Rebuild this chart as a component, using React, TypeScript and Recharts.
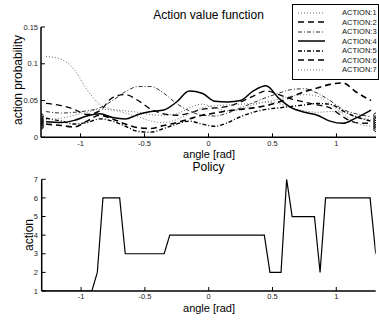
import React from "react";
import {
  ComposedChart,
  Line,
  Scatter,
  XAxis,
  YAxis,
  Legend,
} from "recharts";

// angles (rad) where the action values are sampled
const angles = [
  -1.27, -1.15, -1.05, -0.95, -0.85, -0.75, -0.65, -0.55, -0.45, -0.35, -0.25,
  -0.15, -0.05, 0.05, 0.15, 0.25, 0.35, 0.45, 0.55, 0.65, 0.75, 0.85, 0.95,
  1.05, 1.15, 1.27,
];

const action1 = [
  0.11, 0.106, 0.092, 0.065, 0.045, 0.038, 0.036, 0.034, 0.031, 0.03, 0.032,
  0.04, 0.045, 0.04, 0.036, 0.038, 0.044, 0.048, 0.046, 0.04, 0.036, 0.034,
  0.035, 0.034, 0.028, 0.024,
];
const action2 = [
  0.046, 0.043, 0.038, 0.031, 0.036, 0.054, 0.058, 0.05, 0.038, 0.032, 0.03,
  0.033, 0.038, 0.04, 0.042, 0.048, 0.056, 0.063, 0.058, 0.052, 0.048, 0.044,
  0.04, 0.028, 0.02, 0.019,
];
const action3 = [
  0.035, 0.033, 0.034, 0.036, 0.04, 0.05, 0.062, 0.069, 0.069, 0.06, 0.046,
  0.036, 0.03, 0.029, 0.033, 0.04, 0.047, 0.054, 0.06, 0.065, 0.066, 0.06,
  0.05, 0.038, 0.032, 0.028,
];
const action4 = [
  0.021, 0.02, 0.023, 0.029, 0.032, 0.027, 0.025, 0.031, 0.035, 0.037, 0.048,
  0.063, 0.06, 0.049, 0.048, 0.05, 0.063, 0.07, 0.053, 0.04, 0.034, 0.03,
  0.022, 0.019, 0.026, 0.037,
];
const action5 = [
  0.026, 0.022, 0.018, 0.02, 0.025, 0.022, 0.015, 0.008, 0.007, 0.012, 0.018,
  0.022, 0.018, 0.015, 0.02, 0.028, 0.034, 0.038, 0.04, 0.042, 0.044, 0.046,
  0.045, 0.036, 0.028, 0.022,
];
const action6 = [
  0.018, 0.016, 0.014, 0.022, 0.03, 0.025, 0.018, 0.013, 0.012, 0.016, 0.02,
  0.025, 0.03, 0.033, 0.036, 0.038, 0.04, 0.043, 0.048, 0.055, 0.062, 0.067,
  0.072, 0.074, 0.062, 0.05,
];
const action7 = [
  0.024, 0.026, 0.03, 0.034, 0.038, 0.037, 0.033, 0.028, 0.022, 0.02, 0.024,
  0.032, 0.04, 0.043, 0.044, 0.045, 0.046, 0.048, 0.052, 0.056, 0.058, 0.056,
  0.045, 0.032, 0.02, 0.015,
];

const actionNames = [
  "ACTION:1",
  "ACTION:2",
  "ACTION:3",
  "ACTION:4",
  "ACTION:5",
  "ACTION:6",
  "ACTION:7",
];

// circle markers sitting on the left / right edge
const edgeAngles = [-1.309, 1.309];
const leftMarkers = [0.014, 0.016, 0.019, 0.021, 0.023, 0.026, 0.029];
const rightMarkers = [0.011, 0.014, 0.017, 0.02, 0.023, 0.026, 0.03];

// policy (greedy action) vs angle
const policyAngles = [
  -1.309, -0.916, -0.873, -0.829, -0.698, -0.654, -0.349, -0.305, 0.436, 0.48,
  0.567, 0.611, 0.654, 0.829, 0.873, 0.916, 1.265, 1.309,
];
const policyActions = [1, 1, 2, 6, 6, 3, 3, 4, 4, 2, 2, 7, 5, 5, 2, 6, 6, 3];

const xTicks = [-1, -0.5, 0, 0.5, 1];
const valueTicks = [0, 0.05, 0.1, 0.15];
const actionTicks = [1, 2, 3, 4, 5, 6, 7];

const actionSeries = [action1, action2, action3, action4, action5, action6, action7];

const lineStyles = [
  { stroke: "#666", width: 1, dash: "1 2" },
  { stroke: "#000", width: 1.3, dash: "6 4" },
  { stroke: "#333", width: 1, dash: "4 2 1 2" },
  { stroke: "#000", width: 1.5, dash: undefined },
  { stroke: "#000", width: 1.4, dash: "4 2 1 2" },
  { stroke: "#000", width: 1.6, dash: "6 4" },
  { stroke: "#777", width: 1, dash: "1 2" },
];

const rows = angles.map((angle, i) => {
  const r: Record<string, number> = { angle };
  actionSeries.forEach((s, k) => {
    r[`a${k + 1}`] = s[i];
  });
  return r;
});

const markerRows = [
  ...leftMarkers.map((v) => ({ angle: edgeAngles[0], value: v })),
  ...rightMarkers.map((v) => ({ angle: edgeAngles[1], value: v })),
];

const policyRows = policyAngles.map((angle, i) => ({
  angle,
  action: policyActions[i],
}));

const FONT = '"Liberation Sans", Arial, Helvetica, sans-serif';
const tickStyle = { fontSize: 7.5, fill: "#222", fontFamily: FONT };
const axisLine = { stroke: "#000", strokeWidth: 1.5 };
const tickLine = { stroke: "#000", strokeWidth: 1 };

const renderLegend = () => (
  <div
    style={{
      border: "1.5px solid #000",
      background: "#fff",
      boxSizing: "border-box",
      width: 86.5,
      height: 76,
      padding: "3px 0 0 4.5px",
      fontFamily: FONT,
    }}
  >
    {actionNames.map((name, i) => (
      <div
        key={name}
        style={{ display: "flex", alignItems: "center", height: 9.5 }}
      >
        <svg width={27} height={4} style={{ display: "block" }}>
          <line
            x1={0}
            y1={2}
            x2={27}
            y2={2}
            stroke={lineStyles[i].stroke}
            strokeWidth={lineStyles[i].width}
            strokeDasharray={lineStyles[i].dash}
          />
        </svg>
        <span
          style={{
            marginLeft: 17.5,
            fontSize: 7.5,
            lineHeight: "9.5px",
            color: "#111",
          }}
        >
          {name}
        </span>
      </div>
    ))}
  </div>
);

const text = (
  value: string,
  cx: number,
  top: number,
  size: number,
  rotate = false
) => (
  <div
    style={{
      position: "absolute",
      left: cx,
      top,
      transform: rotate
        ? "translate(-50%, -50%) rotate(-90deg)"
        : "translateX(-50%)",
      fontSize: size,
      lineHeight: `${size}px`,
      whiteSpace: "nowrap",
      fontFamily: FONT,
      color: "#000",
    }}
  >
    {value}
  </div>
);

export default function App() {
  return (
    <div
      style={{
        position: "absolute",
        left: 0,
        top: 0,
        width: 379,
        height: 323,
        background: "#fff",
        overflow: "hidden",
      }}
    >
      <div style={{ position: "absolute", left: 0, top: 0 }}>
        <ComposedChart
          width={379}
          height={170}
          data={rows}
          margin={{ top: 27, right: 3, bottom: 0, left: 0 }}
        >
          <XAxis
            dataKey="angle"
            type="number"
            domain={[-1.309, 1.309]}
            allowDataOverflow
            ticks={xTicks}
            interval={0}
            height={32.7}
            tickSize={-4}
            tickMargin={7}
            tick={tickStyle}
            axisLine={axisLine}
            tickLine={tickLine}
          />
          <YAxis
            type="number"
            domain={[0, 0.15]}
            allowDataOverflow
            ticks={valueTicks}
            interval={0}
            width={41}
            tickSize={-4}
            tickMargin={7}
            tick={tickStyle}
            axisLine={axisLine}
            tickLine={tickLine}
          />
          {lineStyles.map((st, k) => (
            <Line
              key={k}
              dataKey={`a${k + 1}`}
              type="monotone"
              stroke={st.stroke}
              strokeWidth={st.width}
              strokeDasharray={st.dash}
              dot={false}
              activeDot={false}
              isAnimationActive={false}
            />
          ))}
          <Scatter
            data={markerRows}
            dataKey="value"
            isAnimationActive={false}
            shape={(p: any) => (
              <circle
                cx={p.cx}
                cy={p.cy}
                r={2.3}
                fill="none"
                stroke="#000"
                strokeWidth={0.9}
              />
            )}
          />
          <Legend
            layout="vertical"
            align="center"
            verticalAlign="middle"
            wrapperStyle={{ left: 292, top: 4, width: 86.5, height: 76 }}
            content={renderLegend}
          />
        </ComposedChart>
      </div>

      <div style={{ position: "absolute", left: 0, top: 160 }}>
        <ComposedChart
          width={379}
          height={163}
          data={policyRows}
          margin={{ top: 19.3, right: 3.3, bottom: 0, left: 0 }}
        >
          <XAxis
            dataKey="angle"
            type="number"
            domain={[-1.309, 1.309]}
            allowDataOverflow
            ticks={xTicks}
            interval={0}
            height={32}
            tickSize={-4}
            tickMargin={6.5}
            tick={tickStyle}
            axisLine={axisLine}
            tickLine={tickLine}
          />
          <XAxis
            xAxisId="top"
            orientation="top"
            dataKey="angle"
            type="number"
            domain={[-1.309, 1.309]}
            allowDataOverflow
            ticks={xTicks}
            interval={0}
            height={0}
            tickSize={-4}
            tick={false}
            axisLine={axisLine}
            tickLine={tickLine}
          />
          <YAxis
            type="number"
            domain={[1, 7]}
            allowDataOverflow
            ticks={actionTicks}
            interval={0}
            width={41.7}
            tickSize={-4}
            tickMargin={7.7}
            tick={tickStyle}
            axisLine={axisLine}
            tickLine={tickLine}
          />
          <YAxis
            yAxisId="right"
            orientation="right"
            type="number"
            domain={[1, 7]}
            allowDataOverflow
            ticks={actionTicks}
            interval={0}
            width={0}
            tickSize={-4}
            tick={false}
            axisLine={axisLine}
            tickLine={tickLine}
          />
          <Line
            dataKey="action"
            type="linear"
            stroke="#000"
            strokeWidth={1.2}
            dot={false}
            activeDot={false}
            isAnimationActive={false}
          />
        </ComposedChart>
      </div>

      {text("Action value function", 208.5, 9, 12)}
      {text("angle [rad]", 209, 148.5, 11)}
      {text("Policy", 208.5, 160.5, 12)}
      {text("angle [rad]", 209, 302.5, 11)}
      {text("action probability", 17.5, 80, 12, true)}
      {text("action", 29, 235, 12, true)}
    </div>
  );
}
